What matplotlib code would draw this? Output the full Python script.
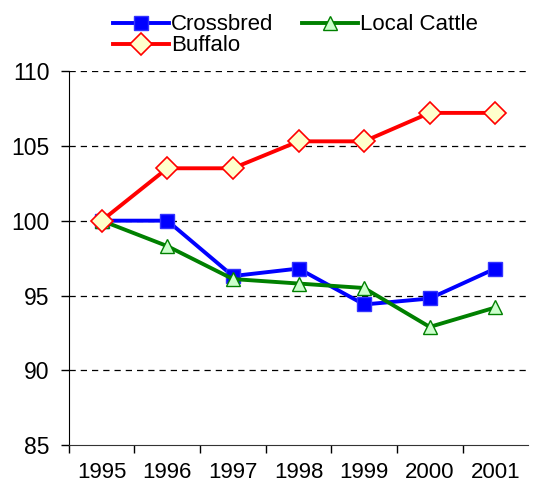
import numpy as np
import matplotlib.pyplot as plt
from matplotlib.ticker import FixedLocator

plt.rcParams['font.family'] = ['Liberation Sans', 'DejaVu Sans']

years = ['1995', '1996', '1997', '1998', '1999', '2000', '2001']
crossbred = [100.0, 100.0, 96.3, 96.8, 94.4, 94.8, 96.8]
local_cattle = [100.0, 98.3, 96.1, 95.8, 95.5, 92.9, 94.2]
buffalo = [100.0, 103.5, 103.5, 105.3, 105.3, 107.2, 107.2]

fig = plt.figure(figsize=(5.34, 4.93), dpi=100)
ax = fig.add_axes([0.129, 0.097, 0.86, 0.759])

x = np.arange(len(years))

l1, = ax.plot(x, crossbred, color='#0000ff', lw=2.8, marker='s', ms=10,
              mfc='#0000ff', mec='#3333ff', label='Crossbred', zorder=3, clip_on=False)
l2, = ax.plot(x, local_cattle, color='#008000', lw=2.8, marker='^', ms=10,
              mfc='#ccffcc', mec='#008000', label='Local Cattle', zorder=4, clip_on=False)
l3, = ax.plot(x, buffalo, color='#ff0000', lw=2.8, marker='D', ms=11,
              mfc='#ffffcc', mec='#ff0000', mew=1.2, label='Buffalo', zorder=5, clip_on=False)

ax.set_xlim(-0.5, len(years) - 0.5)
ax.set_ylim(85, 110)
ax.set_yticks([85, 90, 95, 100, 105, 110])
ax.set_xticks(x)
ax.set_xticklabels(years)
ax.xaxis.set_minor_locator(FixedLocator(np.arange(-0.5, len(years) - 1, 1.0)))
ax.tick_params(axis='x', which='major', length=0, pad=12, labelsize=16)
ax.tick_params(axis='x', which='minor', length=6, width=1, color='black')
ax.tick_params(axis='y', length=6, width=1, pad=8, labelsize=16.5)

for v in [90, 95, 100, 105, 110]:
    ax.axhline(v, color='black', lw=0.9, ls=(0, (5, 4)), zorder=1)

for s in ['top', 'right']:
    ax.spines[s].set_visible(False)
ax.spines['left'].set_color('black')
ax.spines['bottom'].set_color('#333333')

# row-wise legend: Crossbred, Local Cattle / Buffalo
fig.legend([l1, l3, l2], ['Crossbred', 'Buffalo', 'Local Cattle'],
           loc='upper left', bbox_to_anchor=(0.195, 0.989), ncol=2, frameon=False,
           fontsize=16, handlelength=2.5, handletextpad=0.1, columnspacing=1.3,
           labelspacing=0.0, borderaxespad=0)

fig.savefig('out.png', dpi=100)
